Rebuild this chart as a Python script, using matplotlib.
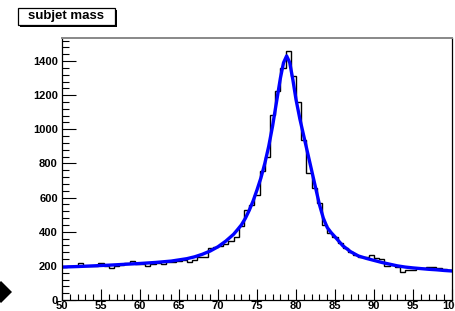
import numpy as np
import matplotlib
matplotlib.use("Agg")
import matplotlib.pyplot as plt
from matplotlib.patches import Rectangle, Polygon

# histogram: 75 bins between 50 and 100
bin_lo, bin_hi, n_bins = 50.0, 100.0, 75
counts = [195, 198, 200, 215, 200, 198, 200, 218, 198, 188,
          200, 205, 218, 228, 210, 212, 200, 210, 215, 212,
          220, 225, 228, 232, 222, 235, 250, 250, 305, 310,
          315, 330, 345, 371, 435, 527, 556, 615, 755, 840,
          1084, 1224, 1361, 1460, 1312, 1162, 937, 742, 654, 566,
          439, 395, 367, 332, 307, 283, 262, 254, 254, 264,
          244, 238, 199, 203, 195, 166, 176, 176, 186, 188,
          191, 195, 186, 183, 176]

# fitted curve
fit_x = [50, 52, 54, 56, 58, 60, 62, 64, 66, 67, 68, 69, 70, 71, 72, 72.5, 73, 73.5,
         74, 74.5, 75, 75.5, 76, 76.5, 77, 77.5, 78, 78.4, 78.8, 79.2, 79.6, 80,
         80.5, 81, 81.5, 82, 82.5, 83, 83.5, 84, 84.5, 85, 86, 87, 88, 89, 90,
         91, 92, 93, 94, 95, 96, 97, 98, 99, 100]
fit_y = [193, 196, 200, 204, 209, 214, 220, 228, 242, 253, 268, 287, 312, 345, 385, 412, 440, 478,
         525, 580, 645, 715, 800, 900, 1020, 1160, 1300, 1390, 1430, 1390, 1290, 1175,
         1060, 960, 860, 760, 660, 560, 480, 425, 395, 370, 318, 283, 258, 244, 232,
         220, 210, 200, 193, 188, 184, 180, 177, 173, 170]

title = "subjet mass"

plt.rcParams['font.family'] = ['Liberation Sans', 'DejaVu Sans']

W, H = 456, 311
fig = plt.figure(figsize=(W / 100, H / 100), dpi=100)
ax = fig.add_axes([62 / W, 1 - 300 / H, (452 - 62) / W, (300 - 38) / H])

edges = np.linspace(bin_lo, bin_hi, n_bins + 1)
ax.stairs(counts, edges, baseline=None, color='black', lw=1.0)
ax.plot(fit_x, fit_y, color='#0000ff', lw=2.4, solid_capstyle='round')

ax.set_xlim(bin_lo, bin_hi)
ax.set_ylim(0, 1535)
ax.set_xticks(np.arange(50, 101, 5))
ax.set_xticks(np.arange(50, 101, 1), minor=True)
ax.set_yticks(np.arange(0, 1401, 200))
ax.set_yticks(np.arange(0, 1535, 40), minor=True)
ax.tick_params(which='both', direction='in', labelsize=8, width=0.8)
ax.tick_params(axis='y', which='major', length=10, pad=3)
ax.tick_params(axis='y', which='minor', length=5)
ax.tick_params(axis='x', which='major', length=8, pad=1)
ax.tick_params(axis='x', which='minor', length=4)
for lab in ax.get_xticklabels() + ax.get_yticklabels():
    lab.set_fontweight('bold')
for side in ['left', 'bottom', 'right']:
    ax.spines[side].set_linewidth(0.9)
ax.spines['top'].set_color('#888888')
ax.spines['top'].set_linewidth(1.4)


def px_rect(x0, y0, x1, y1, **kw):
    return Rectangle((x0 / W, 1 - y1 / H), (x1 - x0) / W, (y1 - y0) / H,
                     transform=fig.transFigure, **kw)


# title box with shadow
fig.patches.append(px_rect(20, 10, 117, 27, facecolor='black', edgecolor='none'))
fig.patches.append(px_rect(18, 8, 115, 25, facecolor='white', edgecolor='black', lw=0.9))
fig.text(66 / W, 1 - 16.5 / H, title, ha='center', va='center',
         fontsize=9.5, fontweight='bold')

# black diamond at the lower left edge
cx, cy, r = 1, 292, 11
fig.patches.append(Polygon([(cx / W, 1 - (cy - r) / H), ((cx + r) / W, 1 - cy / H),
                            (cx / W, 1 - (cy + r) / H), ((cx - r) / W, 1 - cy / H)],
                           closed=True, transform=fig.transFigure,
                           facecolor='black', edgecolor='none'))

fig.savefig('out.png', dpi=100)
